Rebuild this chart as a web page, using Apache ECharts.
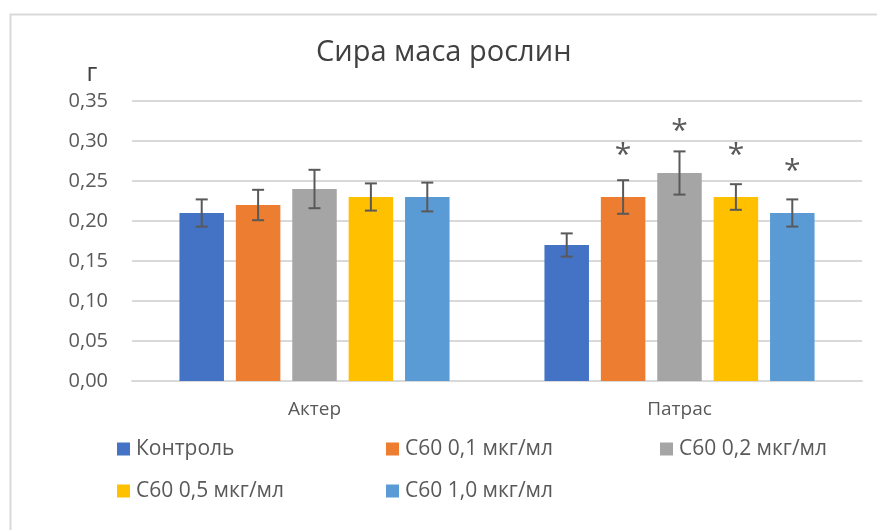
<!DOCTYPE html>
<html>
<head>
<meta charset="utf-8">
<script src="https://cdn.jsdelivr.net/npm/echarts@6/dist/echarts.min.js"></script>
<style>
  html, body { margin: 0; padding: 0; background: #fff; }
  #chart { width: 877px; height: 530px; }
</style>
</head>
<body>
<div id="chart"></div>
<script>
// categories and series
var categories = ['Актер', 'Патрас']
var seriesNames = ['Контроль', 'С60 0,1 мкг/мл', 'С60 0,2 мкг/мл', 'С60 0,5 мкг/мл', 'С60 1,0 мкг/мл']
var colors = ['#4472c4', '#ed7d31', '#a5a5a5', '#ffc000', '#5b9bd5']

// mean values per series (Актер, Патрас)
var control = [0.21, 0.17]
var c60_01 = [0.22, 0.23]
var c60_02 = [0.24, 0.26]
var c60_05 = [0.23, 0.23]
var c60_10 = [0.23, 0.21]

// error (+/-)
var errControl = [0.017, 0.0145]
var err01 = [0.019, 0.021]
var err02 = [0.024, 0.027]
var err05 = [0.017, 0.016]
var err10 = [0.018, 0.017]

// significance marks (*)
var sigControl = [0, 0]
var sig01 = [0, 1]
var sig02 = [0, 1]
var sig05 = [0, 1]
var sig10 = [0, 1]

var yTicks = ['0,00', '0,05', '0,10', '0,15', '0,20', '0,25', '0,30', '0,35']

var values = [control, c60_01, c60_02, c60_05, c60_10]
var errors = [errControl, err01, err02, err05, err10]
var sigs = [sigControl, sig01, sig02, sig05, sig10]

var CAT_GAP = 0.26
var BAR_GAP = 0.267
var FONT = '"Open Sans", sans-serif'

var chart = echarts.init(document.getElementById('chart'))

var barSeries = seriesNames.map(function (name, i) {
  return {
    name: name,
    type: 'bar',
    barCategoryGap: (CAT_GAP * 100) + '%',
    barGap: (BAR_GAP * 100) + '%',
    itemStyle: { color: colors[i] },
    data: values[i]
  }
})

// error bar data: [catIndex, seriesIndex, value, err, sig]
var errData = []
values.forEach(function (vals, s) {
  vals.forEach(function (v, c) {
    errData.push([c, s, v, errors[s][c], sigs[s][c]])
  })
})

function renderError(params, api) {
  var c = api.value(0)
  var s = api.value(1)
  var v = api.value(2)
  var e = api.value(3)
  var sig = api.value(4)
  var n = seriesNames.length
  var band = api.size([1, 0])[0]
  var w = band * (1 - CAT_GAP) / (n + (n - 1) * BAR_GAP)
  var total = n * w + (n - 1) * w * BAR_GAP
  var cx = api.coord([c, 0])[0] - total / 2 + w / 2 + s * w * (1 + BAR_GAP)
  var yTop = api.coord([c, v + e])[1]
  var yBot = api.coord([c, v - e])[1]
  var yBar = api.coord([c, v])[1]
  var cap = 6
  var style = { stroke: '#595959', lineWidth: 2 }
  var children = [
    { type: 'line', shape: { x1: cx, y1: yTop, x2: cx, y2: yBot }, style: style },
    { type: 'line', shape: { x1: cx - cap, y1: yTop, x2: cx + cap, y2: yTop }, style: style },
    { type: 'line', shape: { x1: cx - cap, y1: yBot, x2: cx + cap, y2: yBot }, style: style }
  ]
  if (sig) {
    children.push({
      type: 'text',
      x: cx,
      y: yBar - 42,
      style: {
        text: '*',
        fill: '#595959',
        font: '30px ' + FONT,
        align: 'center',
        verticalAlign: 'middle'
      }
    })
  }
  return { type: 'group', children: children }
}

var legendPos = [
  [117, 437], [386, 437], [660, 437],
  [117, 479], [386, 479]
]
var legends = seriesNames.map(function (name, i) {
  return {
    data: [name],
    left: legendPos[i][0],
    top: legendPos[i][1],
    padding: 0,
    icon: 'rect',
    itemWidth: 13,
    itemHeight: 13,
    itemGap: 0,
    textStyle: { fontFamily: FONT, fontSize: 21, color: '#595959', lineHeight: 24, padding: [0, 0, 0, 1] }
  }
})

chart.setOption({
  animation: false,
  textStyle: { fontFamily: FONT },
  title: {
    text: 'Сира маса рослин',
    left: 316,
    top: 38,
    padding: 0,
    textStyle: { fontFamily: FONT, fontSize: 29, fontWeight: 'normal', color: '#404040' }
  },
  graphic: [{
    type: 'rect',
    left: 8,
    top: 12,
    shape: { width: 900, height: 600 },
    style: { fill: 'none', stroke: '#d9d9d9', lineWidth: 2 },
    silent: true
  }],
  legend: legends,
  grid: { left: 132, right: 15, top: 101, bottom: 149 },
  xAxis: {
    type: 'category',
    data: categories,
    axisTick: { show: false },
    axisLine: { lineStyle: { color: '#d9d9d9', width: 2 } },
    axisLabel: { fontFamily: FONT, fontSize: 19, color: '#595959', margin: 19 }
  },
  yAxis: {
    type: 'value',
    min: 0,
    max: 0.35,
    interval: 0.05,
    name: 'г',
    nameLocation: 'end',
    nameGap: 15,
    nameTextStyle: { fontFamily: FONT, fontSize: 25, color: '#404040', align: 'center', padding: [0, 80, 0, 0] },
    axisLine: { show: false },
    axisTick: { show: false },
    splitLine: { lineStyle: { color: '#d9d9d9', width: 2 } },
    axisLabel: {
      fontFamily: FONT,
      fontSize: 20,
      color: '#595959',
      margin: 24,
      formatter: function (v) { return yTicks[Math.round(v / 0.05)] }
    }
  },
  series: barSeries.concat([{
    type: 'custom',
    renderItem: renderError,
    encode: { x: 0, y: 2 },
    data: errData,
    z: 10,
    silent: true
  }])
})
</script>
</body>
</html>
